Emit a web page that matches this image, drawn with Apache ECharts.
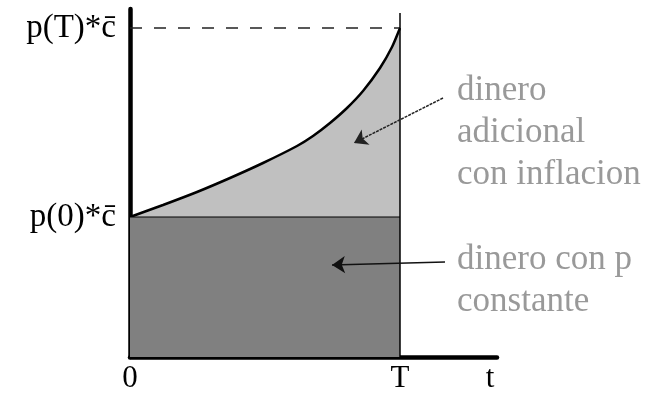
<!DOCTYPE html>
<html>
<head>
<meta charset="utf-8">
<script src="https://cdn.jsdelivr.net/npm/echarts@6/dist/echarts.min.js"></script>
<style>html,body{margin:0;padding:0;background:#fff}#c{width:656px;height:400px}</style>
</head>
<body>
<div id="c"></div>
<script>
// time values (units along t axis) and price*c values along the curve
const tValues = [0, 33, 67, 100, 133, 167, 183, 200, 217, 233, 250, 262, 270];
const curveValues = [140, 152, 165, 179, 194, 211, 221, 234, 249, 266, 289, 310, 329];
const T = 270;
const p0 = 140;
const pT = 329;
const tMax = 367;
const yMax = 348;
const tLineTop = 344;
const xTickValues = [0, 270, 360];
const xTickLabels = ['0', 'T', 't'];
const yTickValues = [140, 329];
const yTickLabels = ['p(0)*c\u0304', 'p(T)*c\u0304'];
const annotationPos = [[327, 224], [327, 76]];
const annotationTexts = ['dinero\nadicional\ncon inflacion', 'dinero con p\nconstante'];
const arrowUpper = [[313, 259], [224, 214]];
const arrowLower = [[315, 95], [202, 92]];

const serif = "'Liberation Serif', 'Times New Roman', serif";
const chart = echarts.init(document.getElementById('c'));
chart.setOption({
  animation: false,
  backgroundColor: '#fff',
  grid: { left: 130, right: 159, top: 9, bottom: 43 },
  xAxis: {
    type: 'value', min: 0, max: tMax,
    splitLine: { show: false },
    axisTick: { show: false },
    axisLine: { lineStyle: { color: '#000', width: 4.5 } },
    axisLabel: {
      customValues: xTickValues,
      formatter: v => xTickLabels[xTickValues.indexOf(v)],
      color: '#000', fontFamily: serif, fontSize: 31, margin: 6
    }
  },
  yAxis: {
    type: 'value', min: 0, max: yMax,
    splitLine: { show: false },
    axisTick: { show: false },
    axisLine: { show: true, lineStyle: { color: '#000', width: 4.5 } },
    axisLabel: {
      customValues: yTickValues,
      formatter: v => yTickLabels[yTickValues.indexOf(v)],
      color: '#000', fontFamily: serif, fontSize: 33, margin: 14
    }
  },
  series: [
    {
      type: 'line',
      data: tValues.map((t, i) => [t, curveValues[i]]),
      smooth: 0.25,
      symbol: 'none',
      lineStyle: { color: '#000', width: 2.5 },
      areaStyle: { color: '#c0c0c0', opacity: 1 },
      z: 2,
      markLine: {
        silent: true,
        symbol: ['none', 'none'],
        label: { show: false },
        data: [
          [{ coord: [0, pT], lineStyle: { color: '#222', width: 1.5, type: [12, 12] } }, { coord: [T, pT] }],
          [{ coord: [T, 0], lineStyle: { color: '#000', width: 1.5, type: 'solid' } }, { coord: [T, tLineTop] }]
        ]
      }
    },
    {
      type: 'line',
      data: [[0, p0], [T, p0]],
      symbol: 'none',
      lineStyle: { color: '#000', width: 1 },
      areaStyle: { color: '#808080', opacity: 1 },
      z: 3
    },
    {
      type: 'scatter',
      symbolSize: 0,
      silent: true,
      z: 5,
      data: annotationPos.map((p, i) => ({ value: p, name: annotationTexts[i] })),
      label: {
        show: true,
        position: 'inside',
        align: 'left',
        verticalAlign: 'middle',
        formatter: p => p.name,
        color: '#808080',
        fontFamily: serif,
        fontSize: 35,
        lineHeight: 42
      },
      markLine: {
        silent: true,
        symbol: ['none', 'arrow'],
        symbolSize: 13,
        label: { show: false },
        data: [
          [{ coord: arrowUpper[0], lineStyle: { color: '#222', width: 1.5, type: [3, 1] }, itemStyle: { color: '#000' } }, { coord: arrowUpper[1] }],
          [{ coord: arrowLower[0], lineStyle: { color: '#111', width: 1.5, type: 'solid' }, itemStyle: { color: '#000' } }, { coord: arrowLower[1] }]
        ]
      }
    }
  ]
});
</script>
</body>
</html>
